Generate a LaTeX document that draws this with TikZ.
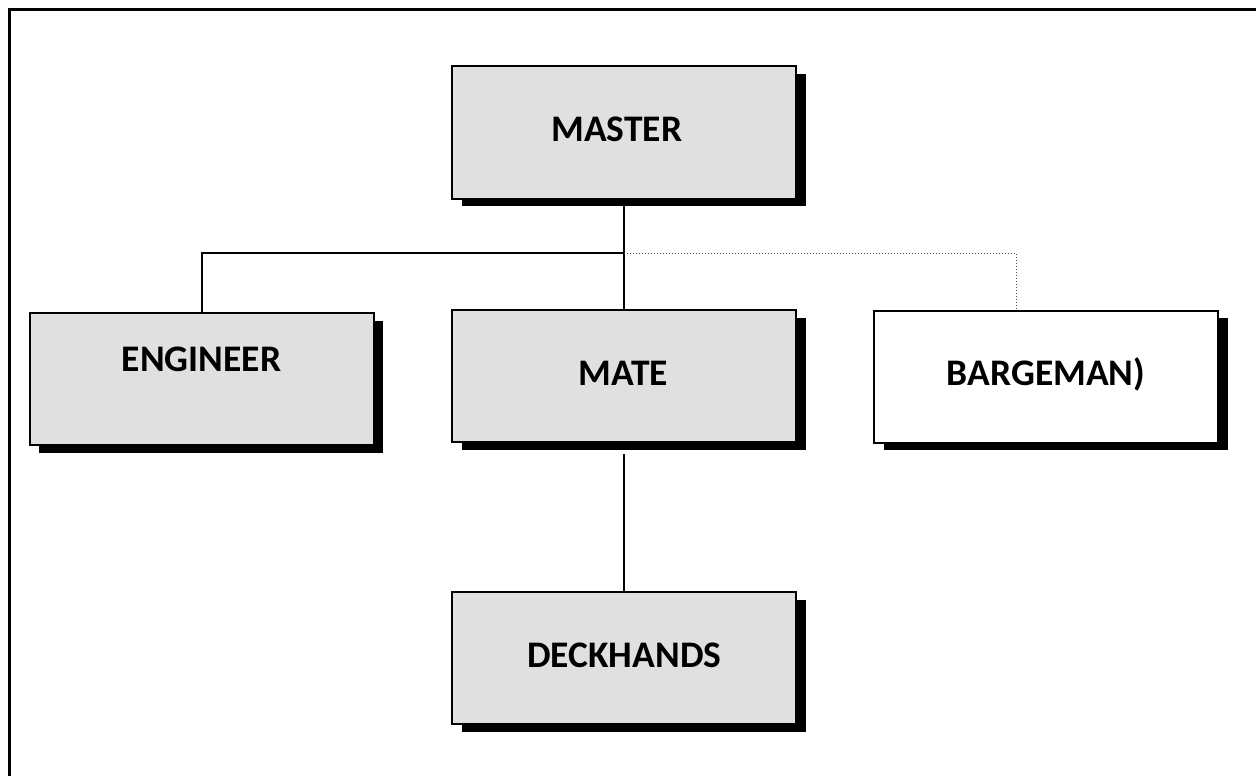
\documentclass[tikz,border=0pt]{standalone}
\usepackage{fontspec}
\setmainfont{Carlito}
\usetikzlibrary{shadows}
\begin{document}
\begin{tikzpicture}[x=1pt,y=-1pt,
  rolebox/.style={draw=black, line width=2pt, inner sep=0pt,
    minimum width=344pt, minimum height=132pt,
    drop shadow={shadow xshift=9.5pt, shadow yshift=-7.5pt, fill=black, opacity=1}},
  greybox/.style={rolebox, fill={rgb,255:red,224;green,224;blue,224}},
  whitebox/.style={rolebox, fill=white},
  rolename/.style={anchor=base, inner sep=0pt, font=\fontsize{37.5}{40}\selectfont\bfseries},
  link/.style={draw=black, line width=2pt},
  dotlink/.style={draw=black!70, line width=1pt, dash pattern=on 1pt off 2pt}]
\useasboundingbox (0,0) rectangle (1256,776);
% outer frame (runs off the right and bottom edges)
\draw[line width=3pt] (1260,9.5) -- (9.5,9.5) -- (9.5,780);

% boxes
\node[greybox]  (master)    at (624.3,132.5) {};
\node[greybox]  (engineer)  at (201.7,379)   {};
\node[greybox]  (mate)      at (624.3,376.2) {};
\node[whitebox] (bargeman)  at (1046,376.7)  {};
\node[greybox]  (deckhands) at (624.3,658.3) {};

% labels
\node[rolename] (tmaster)    at (616.7,141.7)  {MASTER};
\node[rolename] (tengineer)  at (201.5,371.7)  {ENGINEER};
\node[rolename] (tmate)      at (623.5,385)    {MATE};
\node[rolename] (tbargeman)  at (1046,385)     {BARGEMAN)};
\node[rolename] (tdeckhands) at (624.3,667.7)  {DECKHANDS};

% connectors
\coordinate (junction) at (624.3,253.3);
\coordinate (below mate) at (624.3,454);
\draw[link] (master.south) -- (mate.north);
\draw[link] (junction) -| (engineer.north);
\draw[dotlink] (junction) -| ([xshift=-29.3pt]bargeman.north);
\draw[link] (below mate) -- (deckhands.north);
\end{tikzpicture}
\end{document}
